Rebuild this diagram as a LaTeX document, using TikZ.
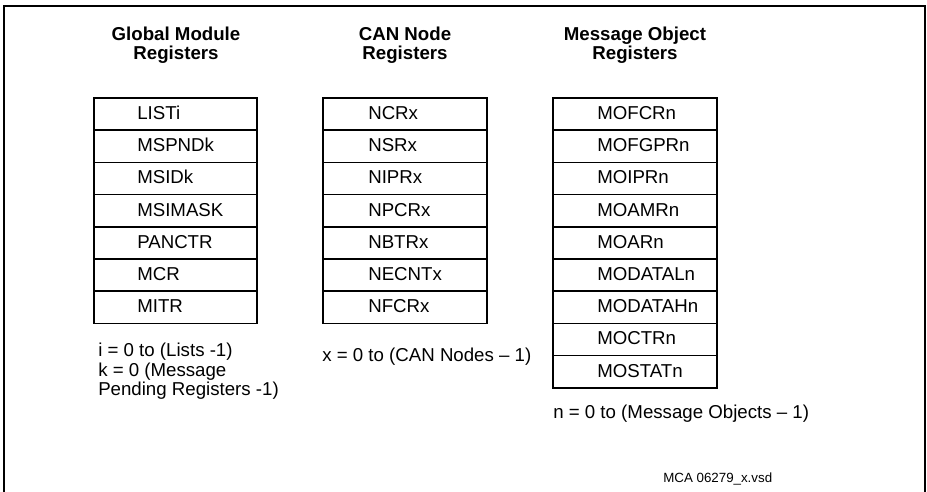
\documentclass[tikz,border=0pt]{standalone}
\usepackage{fontspec}
\setmainfont{Liberation Sans}
\usepackage{tikz}
\usepackage{xcolor}

\begin{document}
\begin{tikzpicture}[x=0.75pt,y=-0.75pt,
  frame/.style={line width=1.4pt,line cap=butt},
  cell/.style={line width=1.2pt},
  reg/.style={anchor=base west,inner sep=0pt,font=\fontsize{14}{16}\selectfont},
  title/.style={align=center,inner sep=0pt,font=\fontsize{14}{14.6}\selectfont\bfseries},
  remark/.style={align=left,inner sep=0pt,font=\fontsize{14}{14.6}\selectfont}]
\useasboundingbox (0,0) rectangle (927,492);
\draw[frame] (4,492) -- (4,6) -- (925,6) -- (925,492);
\node[title,anchor=base] (gtitle) at (176,59.5) {Global Module\\Registers};
\node[title,anchor=base] (ntitle) at (405,59.5) {CAN Node\\Registers};
\node[title,anchor=base] (mtitle) at (635,59.5) {Message Object\\Registers};
\draw[cell] (94,98) rectangle (257,130.2);
\node[reg] (listi) at (137,119.5) {LISTi};
\draw[cell] (94,130.2) rectangle (257,162.4);
\node[reg] (mspndk) at (137,151.7) {MSPNDk};
\draw[cell] (94,162.4) rectangle (257,194.6);
\node[reg] (msidk) at (137,183.9) {MSIDk};
\draw[cell] (94,194.6) rectangle (257,226.8);
\node[reg] (msimask) at (137,216.1) {MSIMASK};
\draw[cell] (94,226.8) rectangle (257,259);
\node[reg] (panctr) at (137,248.3) {PANCTR};
\draw[cell] (94,259) rectangle (257,291.2);
\node[reg] (mcr) at (137,280.5) {MCR};
\draw[cell] (94,291.2) rectangle (257,323.4);
\node[reg] (mitr) at (137,312.7) {MITR};
\draw[cell] (323,98) rectangle (487,130.2);
\node[reg] (ncrx) at (368,119.5) {NCRx};
\draw[cell] (323,130.2) rectangle (487,162.4);
\node[reg] (nsrx) at (368,151.7) {NSRx};
\draw[cell] (323,162.4) rectangle (487,194.6);
\node[reg] (niprx) at (368,183.9) {NIPRx};
\draw[cell] (323,194.6) rectangle (487,226.8);
\node[reg] (npcrx) at (368,216.1) {NPCRx};
\draw[cell] (323,226.8) rectangle (487,259);
\node[reg] (nbtrx) at (368,248.3) {NBTRx};
\draw[cell] (323,259) rectangle (487,291.2);
\node[reg] (necntx) at (368,280.5) {NECNTx};
\draw[cell] (323,291.2) rectangle (487,323.4);
\node[reg] (nfcrx) at (368,312.7) {NFCRx};
\draw[cell] (553,98) rectangle (717,130.2);
\node[reg] (mofcrn) at (597,119.5) {MOFCRn};
\draw[cell] (553,130.2) rectangle (717,162.4);
\node[reg] (mofgprn) at (597,151.7) {MOFGPRn};
\draw[cell] (553,162.4) rectangle (717,194.6);
\node[reg] (moiprn) at (597,183.9) {MOIPRn};
\draw[cell] (553,194.6) rectangle (717,226.8);
\node[reg] (moamrn) at (597,216.1) {MOAMRn};
\draw[cell] (553,226.8) rectangle (717,259);
\node[reg] (moarn) at (597,248.3) {MOARn};
\draw[cell] (553,259) rectangle (717,291.2);
\node[reg] (modataln) at (597,280.5) {MODATALn};
\draw[cell] (553,291.2) rectangle (717,323.4);
\node[reg] (modatahn) at (597,312.7) {MODATAHn};
\draw[cell] (553,323.4) rectangle (717,355.6);
\node[reg] (moctrn) at (597,344.9) {MOCTRn};
\draw[cell] (553,355.6) rectangle (717,387.8);
\node[reg] (mostatn) at (597,377.1) {MOSTATn};
\node[remark,anchor=north west] (gnote) at (98,343) {i = 0 to (Lists -1)\\k = 0 (Message\\Pending Registers -1)};
\node[remark,anchor=base west] (nnote) at (322,361.5) {x = 0 to (CAN Nodes -- 1)};
\node[remark,anchor=base west] (mnote) at (553,418) {n = 0 to (Message Objects -- 1)};
\node[anchor=base west,inner sep=0pt,font=\fontsize{10}{12}\selectfont] (fileid) at (663,482) {MCA 06279\_x.vsd};
\end{tikzpicture}
\end{document}
